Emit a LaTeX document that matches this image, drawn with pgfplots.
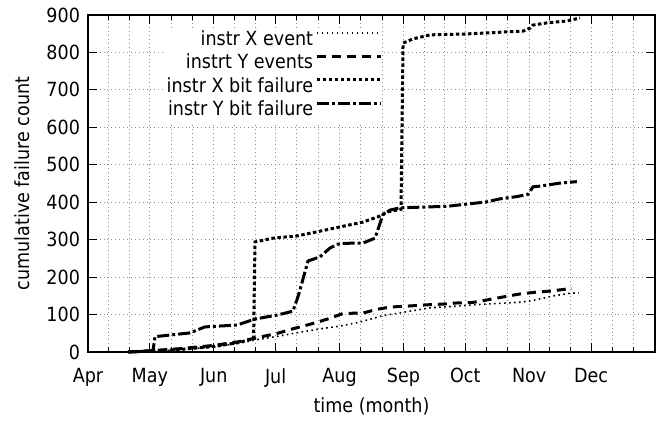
\documentclass[border=0pt]{standalone}
\usepackage{fontspec}
\setmainfont{DejaVu Sans}[FakeStretch=0.9]
\usepackage{pgfplots}
\pgfplotsset{compat=1.18}
\pgfplotsset{layers/mine/.define layer set={axis background,axis grid,pre main,main,axis ticks,axis lines,axis tick labels,axis descriptions,axis foreground}{}}
\newcommand\F{\fontsize{19.5}{23.5}\selectfont}

\begin{document}
\begin{tikzpicture}
\begin{axis}[
 set layers=mine,
 width=567pt, height=337pt, scale only axis, clip=false,
 xmin=0, xmax=275, ymin=0, ymax=900,
 xtick={0,30,61,91,122,153,183,214,244},
 xticklabels={Apr,May,Jun,Jul,Aug,Sep,Oct,Nov,Dec},
 minor xtick={10,20,40.33,50.67,71,81,101.33,111.67,132.33,142.67,163,173,193.33,203.67,224,234,254.33,264.67},
 ytick={0,100,...,900},
 tick align=inside,
 major tick length=9pt, minor tick length=5pt,
 tick style={black, line width=1pt},
 axis line style={line width=1.5pt},
 xmajorgrids, xminorgrids, ymajorgrids,
 major grid style={black!45, line width=0.9pt, dash pattern=on 0.9pt off 3pt},
 minor grid style={black!45, line width=0.9pt, dash pattern=on 0.9pt off 3pt},
 /pgf/number format/assume math mode=true,
 tick label style={font=\F},
 label style={font=\F},
 yticklabel style={xshift=-4.5pt},
 xticklabel style={yshift=-13pt},
 xlabel={time (month)}, ylabel={cumulative failure count},
 xlabel style={at={(axis description cs:0.5,-0.181)}, anchor=base},
 ylabel style={at={(axis description cs:-0.1023,0.5)}, anchor=base},
 legend style={font=\F, at={(axis description cs:0.519,0.963)}, anchor=north east,
   draw=none, fill=white, inner sep=0pt, column sep=0pt,
   nodes={text height=14.5pt, text depth=3pt, inner ysep=3pt}},
 legend cell align=right, legend plot pos=right,
 legend image code/.code={\draw[#1] (0pt,6.5pt) -- (64pt,6.5pt);},
]
% white area behind the key (covers the grid there)
\addplot[fill=white, draw=none, forget plot, on layer=pre main] coordinates {(3,622) (146,622) (146,898) (3,898)} -- cycle;
% instr X event
\addplot[black, line width=1.6pt, dash pattern=on 1.6pt off 3.4pt] coordinates {
(19.4,0) (31.5,2) (45,6) (61.6,14) (72,22) (81,32) (92,42) (103,53) (113,62) (122,69)
(132,80) (143,97) (155,108) (166,118) (180,123) (190,127) (200,130) (210,133) (216,138)
(226,150) (234,157) (238,158)};
\addlegendentry{instr X event}
% instrt Y events
\addplot[black, line width=3pt, dash pattern=on 9pt off 6pt] coordinates {
(19.4,0) (31.5,4) (45,9) (61.6,18) (73.7,28) (81,37) (92,50) (99.4,62) (109,76) (117.4,90)
(123.7,103) (133.4,104) (140.2,114) (146.5,120) (156.2,123) (164.4,126) (172.2,128)
(179,131) (186.2,132) (193.5,139) (201.3,147) (209.5,155) (217.7,160) (225,163) (234.7,170)};
\addlegendentry{instrt Y events}
% instr X bit failure
\addplot[black, line width=3pt, dash pattern=on 3.5pt off 2.5pt] coordinates {
(19.4,0) (31.5,3) (45,7) (61.6,15) (73.7,26) (80.3,36) (81,294) (89.7,304) (101.4,310)
(111.1,321) (122.2,334) (133.4,347) (141.6,363) (145,374) (149.9,379) (151.8,381)
(152.8,825) (157.6,836) (165.9,847) (181.9,849) (193.5,852) (203.2,855) (211,857)
(214.4,865) (215.8,873) (222.6,879) (232.3,884) (238.6,892)};
\addlegendentry{instr X bit failure}
% instr Y bit failure
\addplot[black, line width=3pt, dash pattern=on 12pt off 3pt on 3pt off 3pt] coordinates {
(19.4,0) (31.5,2) (32.5,41) (49.5,51) (56.7,67) (72.3,72) (81,88) (92.1,99) (99.4,109)
(102,150) (106.7,243) (112.5,254) (117.4,278) (122.2,290) (133.4,291) (139.2,304)
(143,366) (146.5,379) (151.3,385) (162.5,387) (174.1,389) (183.8,395) (193.5,401)
(199.8,409) (208,415) (213.4,421) (215.8,441) (219.2,443) (228.9,451) (237.1,455)};
\addlegendentry{instr Y bit failure}
\path (rel axis cs:-0.1552,-0.2136) rectangle (rel axis cs:1.0229,1.0445);
\end{axis}
\end{tikzpicture}
\end{document}
